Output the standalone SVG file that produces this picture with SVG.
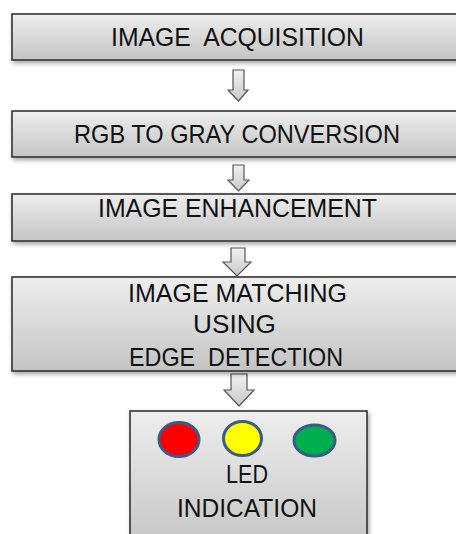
<svg xmlns="http://www.w3.org/2000/svg" width="456" height="534" viewBox="0 0 456 534">
<defs>
<linearGradient id="boxg" x1="0" y1="0" x2="0" y2="1">
<stop offset="0" stop-color="#eeeeee"/>
<stop offset="1" stop-color="#c4c4c4"/>
</linearGradient>
<linearGradient id="arrg" x1="0" y1="0" x2="0" y2="1">
<stop offset="0" stop-color="#f2f2f2"/>
<stop offset="1" stop-color="#c8c8c8"/>
</linearGradient>
<filter id="sh" x="-10%" y="-20%" width="130%" height="150%">
<feDropShadow dx="1.5" dy="2.5" stdDeviation="2" flood-color="#000" flood-opacity="0.35"/>
</filter>
</defs>
<style>
.box{fill:url(#boxg);stroke:#333333;stroke-width:1.6;filter:url(#sh)}
.arr{fill:url(#arrg);stroke:#555555;stroke-width:1.2;stroke-linejoin:miter}
.t{font-family:"Liberation Sans","Open Sans",Arial,sans-serif;font-size:26px;fill:#111111;text-anchor:middle}
.led{stroke:#3a5a8a;stroke-width:3}
</style>
<g id="connectors">
<path class="arr" d="M233,70 H244 V90 H248 L238.5,101 L228,90 H233 Z"/>
<path class="arr" d="M233,165 H244 V180 H249 L238.5,191 L228,180 H233 Z"/>
<path class="arr" d="M231,248 H245 V262 H251 L237,276 L223,262 H231 Z"/>
<path class="arr" d="M231,374 H247 V390 H254 L239,406 L224,390 H231 Z"/>
</g>
<g id="n1">
<rect class="box" x="12" y="14" width="470" height="46"/>
<text class="t" x="237.5" y="46" textLength="253" lengthAdjust="spacingAndGlyphs" xml:space="preserve">IMAGE  ACQUISITION</text>
</g>
<g id="n2">
<rect class="box" x="12" y="111" width="470" height="46"/>
<text class="t" x="237" y="143" textLength="326" lengthAdjust="spacingAndGlyphs">RGB TO GRAY CONVERSION</text>
</g>
<g id="n3">
<rect class="box" x="12" y="194" width="470" height="47"/>
<text class="t" x="237.5" y="217" textLength="279" lengthAdjust="spacingAndGlyphs">IMAGE ENHANCEMENT</text>
</g>
<g id="n4">
<rect class="box" x="12" y="277" width="470" height="94"/>
<text class="t" x="237.5" y="302" textLength="219" lengthAdjust="spacingAndGlyphs">IMAGE MATCHING</text>
<text class="t" x="234.5" y="333" textLength="83" lengthAdjust="spacingAndGlyphs">USING</text>
<text class="t" x="236" y="366" textLength="214" lengthAdjust="spacingAndGlyphs" xml:space="preserve">EDGE  DETECTION</text>
</g>
<g id="n5">
<rect class="box" x="130" y="411" width="237" height="140"/>
<ellipse class="led" cx="179" cy="439.5" rx="20" ry="17" fill="#ff0000"/>
<ellipse class="led" cx="242.5" cy="438.5" rx="19" ry="17" fill="#ffff00"/>
<ellipse class="led" cx="314.5" cy="440.5" rx="20.5" ry="15.5" fill="#00b050"/>
<text class="t" x="247" y="483" textLength="42" lengthAdjust="spacingAndGlyphs">LED</text>
<text class="t" x="247" y="517" textLength="140" lengthAdjust="spacingAndGlyphs">INDICATION</text>
</g>
</svg>
